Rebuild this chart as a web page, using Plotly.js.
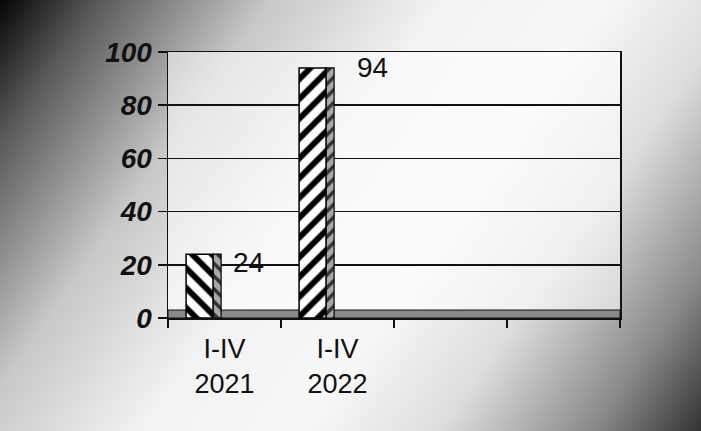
<!DOCTYPE html>
<html>
<head>
<meta charset="utf-8">
<script src="https://cdn.plot.ly/plotly-3.0.1.min.js"></script>
<style>
  html, body { margin: 0; padding: 0; }
  body {
    width: 701px; height: 431px; overflow: hidden;
    background: linear-gradient(125deg, #050505 0%, #5a5a5a 10%, #c8c8c8 27%, #f2f2f2 44%, #f8f8f8 60%, #dddddd 74%, #8a8a8a 89%, #333 100%);
  }
  #chart { width: 701px; height: 431px; }
</style>
</head>
<body>
<div id="chart"></div>
<script>
// Data
var categories = ["I-IV<br>2021", "I-IV<br>2022", " ", "  "];
var barCategories = ["I-IV<br>2021", "I-IV<br>2022"];
var values = [24, 94];
var valueLabels = ["24", "94"];
var yTicks = [0, 20, 40, 60, 80, 100];

var hatch = ["\\", "/"];

var front = {
  type: "bar",
  x: barCategories,
  y: values,
  width: 0.24,
  offset: -0.34,
  marker: {
    color: "white",
    line: { color: "black", width: 1.5 },
    pattern: { shape: hatch, fgcolor: "black", bgcolor: "white", size: 14, solidity: 0.42 }
  },
  hoverinfo: "skip",
  showlegend: false
};

var side = {
  type: "bar",
  x: barCategories,
  y: values,
  width: 0.07,
  offset: -0.10,
  marker: {
    color: "#999",
    line: { color: "black", width: 1.2 },
    pattern: { shape: hatch, fgcolor: "#333", bgcolor: "#a8a8a8", size: 9, solidity: 0.4 }
  },
  hoverinfo: "skip",
  showlegend: false
};

var labelShift = [[6, -8], [17, 0]];
var annotations = barCategories.map(function (c, i) {
  return {
    x: c, y: values[i], xref: "x", yref: "y",
    text: valueLabels[i], showarrow: false,
    xanchor: "left", yanchor: "middle",
    xshift: labelShift[i][0], yshift: labelShift[i][1],
    font: { family: "Liberation Sans, Arial, sans-serif", size: 28, color: "#111" }
  };
});

var layout = {
  width: 701, height: 431,
  margin: { l: 168, r: 81, t: 52, b: 113 },
  paper_bgcolor: "rgba(0,0,0,0)",
  plot_bgcolor: "rgba(255,255,255,0.55)",
  barmode: "overlay",
  xaxis: {
    type: "category",
    categoryorder: "array",
    categoryarray: categories,
    tickvals: categories,
    ticktext: categories,
    range: [-0.5, 3.5],
    tickson: "boundaries",
    ticks: "outside", ticklen: 8, tickcolor: "#111", tickwidth: 1.5,
    ticklabelstandoff: 6,
    showline: true, linecolor: "#111", linewidth: 1.5, mirror: true,
    showgrid: false,
    tickfont: { family: "Liberation Sans, Arial, sans-serif", size: 27, color: "#111" }
  },
  yaxis: {
    range: [0, 100],
    tickvals: yTicks,
    ticks: "outside", ticklen: 9, tickcolor: "#111", tickwidth: 1.5,
    showline: true, linecolor: "#111", linewidth: 1.5, mirror: true,
    showgrid: true, gridcolor: "#111", gridwidth: 1.5,
    zeroline: false,
    tickfont: { family: "Liberation Sans, Arial, sans-serif", size: 28, color: "#111", weight: "bold", style: "italic" }
  },
  shapes: [{
    type: "rect", xref: "x domain", yref: "y", x0: 0, x1: 1, y0: 0, y1: 3,
    fillcolor: "#8a8a8a", line: { color: "#111", width: 1 }, layer: "below"
  }],
  annotations: annotations
};

Plotly.newPlot("chart", [front, side], layout, { displayModeBar: false, staticPlot: true });
</script>
</body>
</html>
